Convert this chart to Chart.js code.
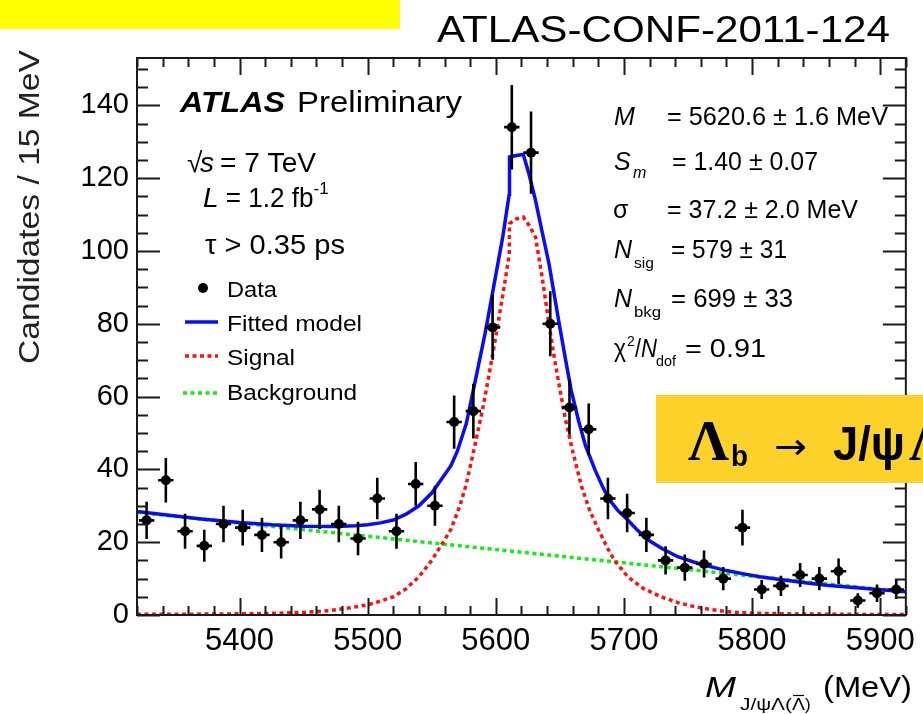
<!DOCTYPE html>
<html>
<head>
<meta charset="utf-8">
<script src="https://cdn.jsdelivr.net/npm/chart.js@4.4.0/dist/chart.umd.min.js"></script>
<style>
  html, body { margin: 0; padding: 0; background: #fff; }
  #wrap { width: 923px; height: 714px; position: relative; }
</style>
</head>
<body>
<div id="wrap"><canvas id="massPlot" width="923" height="714"></canvas></div>
<script>
// 15 MeV bins, 5320 - 5920 MeV
const binCentres = [5327.5, 5342.5, 5357.5, 5372.5, 5387.5, 5402.5, 5417.5, 5432.5, 5447.5, 5462.5,
                    5477.5, 5492.5, 5507.5, 5522.5, 5537.5, 5552.5, 5567.5, 5582.5, 5597.5, 5612.5,
                    5627.5, 5642.5, 5657.5, 5672.5, 5687.5, 5702.5, 5717.5, 5732.5, 5747.5, 5762.5,
                    5777.5, 5792.5, 5807.5, 5822.5, 5837.5, 5852.5, 5867.5, 5882.5, 5897.5, 5912.5];
const candidates = [26, 37, 23, 19, 25, 24, 22, 20, 26, 29,
                    25, 21, 32, 23, 36, 30, 53, 56, 79, 134,
                    127, 80, 57, 51, 32, 28, 22, 15, 13, 14,
                    10, 24, 7, 8, 11, 10, 12, 4, 6, 7];
const countErr = [5.1, 6.1, 4.8, 4.4, 5.0, 4.9, 4.7, 4.5, 5.1, 5.4,
                  5.0, 4.6, 5.7, 4.8, 6.0, 5.5, 7.3, 7.5, 8.9, 11.6,
                  11.3, 8.9, 7.5, 7.1, 5.7, 5.3, 4.7, 3.9, 3.6, 3.7,
                  3.2, 4.9, 2.6, 2.8, 3.3, 3.2, 3.5, 2.0, 2.4, 2.6];

// fitted model (signal + background)
const fitMass = [5320, 5345, 5370, 5400, 5425, 5450, 5475, 5490, 5500, 5510, 5520, 5530, 5540, 5550,
                 5558, 5565, 5570, 5577, 5585, 5592, 5598, 5605.5, 5610.5, 5610.7, 5616, 5621.5,
                 5626, 5631, 5636, 5641.5, 5649, 5654.5, 5659, 5664.5, 5670, 5677.5, 5683, 5688,
                 5695, 5703, 5710, 5719, 5730, 5742, 5755, 5767.5, 5780, 5793.5, 5806, 5819,
                 5838, 5858, 5877, 5896, 5920];
const fitVal = [28.4, 27.4, 26.4, 25.4, 24.8, 24.4, 24.3, 24.5, 24.8, 25.3, 26.1, 27.7, 30.0, 33.5,
                37.5, 41.0, 45.0, 52.6, 66.0, 78.0, 89.5, 104.0, 115.6, 125.8, 126.2, 126.5,
                121.0, 113.9, 105.5, 96.5, 81.0, 70.0, 61.5, 53.5, 46.5, 39.8, 35.5, 32.0,
                28.8, 26.1, 23.5, 20.6, 18.2, 16.0, 14.5, 13.3, 12.2, 11.3, 10.5, 9.9,
                9.0, 8.2, 7.6, 7.05, 6.4];

// signal component
const sigMass = [5320, 5380, 5420, 5450, 5470, 5485, 5500, 5510, 5520, 5530, 5540, 5550, 5558, 5565,
                 5572, 5577, 5583, 5590, 5595, 5600, 5605.5, 5610.5, 5610.7, 5616, 5621.5, 5626,
                 5631, 5636.5, 5641.5, 5645.5, 5650, 5654.5, 5660, 5667, 5673, 5680, 5687, 5693,
                 5703, 5715, 5729, 5742, 5755, 5768, 5780, 5800, 5832, 5870, 5920];
const sigVal = [0.2, 0.25, 0.4, 0.7, 1.2, 1.9, 2.8, 3.8, 5.0, 7.2, 10.5, 15.0, 19.5, 23.5,
                30.0, 36.0, 45.5, 57.0, 66.5, 76.5, 88.0, 99.0, 107.5, 108.8, 109.3, 107.0,
                103.8, 92.0, 80.0, 71.0, 62.0, 53.5, 45.0, 35.2, 29.0, 23.5, 18.5, 14.8,
                10.5, 7.3, 5.0, 3.4, 2.3, 1.5, 0.9, 0.5, 0.3, 0.2, 0.1];

// background component (linear)
const bkgMass = [5320, 5920];
const bkgVal = [28.2, 6.3];

const xTickLabels = [5400, 5500, 5600, 5700, 5800, 5900];
const yTickLabels = [0, 20, 40, 60, 80, 100, 120, 140];

const SANS = '"Liberation Sans", Arial, sans-serif';
const SERIF = '"Liberation Serif", "Times New Roman", serif';

const pts = (xs, ys) => xs.map((v, i) => ({ x: v, y: ys[i] }));

// draw a string; if width is given the run is stretched horizontally to that width
function put(ctx, str, x, y, size, o = {}) {
  ctx.save();
  ctx.font = `${o.style || 'normal'} ${o.weight || 'normal'} ${size}px ${o.family || SANS}`;
  ctx.fillStyle = o.color || '#000';
  ctx.textBaseline = 'alphabetic';
  ctx.textAlign = 'left';
  const w = ctx.measureText(str).width;
  const sx = o.width ? o.width / w : (o.sx || 1);
  ctx.translate(x, y);
  ctx.scale(sx, 1);
  ctx.fillText(str, 0, 0);
  ctx.restore();
  return x + w * sx;
}

function legendLine(ctx, x0, x1, y, color, dash) {
  ctx.save();
  ctx.strokeStyle = color;
  ctx.lineWidth = 3.5;
  ctx.setLineDash(dash || []);
  ctx.beginPath();
  ctx.moveTo(x0, y);
  ctx.lineTo(x1, y);
  ctx.stroke();
  ctx.restore();
}

const errorBars = {
  id: 'errorBars',
  afterDatasetsDraw(chart) {
    const { ctx, chartArea: a, scales: { x, y } } = chart;
    ctx.save();
    ctx.beginPath();
    ctx.rect(a.left, a.top, a.right - a.left, a.bottom - a.top);
    ctx.clip();
    ctx.strokeStyle = '#000';
    ctx.lineWidth = 2.6;
    binCentres.forEach((m, i) => {
      const px = x.getPixelForValue(m);
      const py = y.getPixelForValue(candidates[i]);
      ctx.beginPath();
      ctx.moveTo(px, y.getPixelForValue(candidates[i] + countErr[i]));
      ctx.lineTo(px, y.getPixelForValue(Math.max(0, candidates[i] - countErr[i])));
      ctx.moveTo(x.getPixelForValue(m - 6), py);
      ctx.lineTo(x.getPixelForValue(m + 6), py);
      ctx.stroke();
    });
    ctx.restore();
  }
};

// box with inward ticks on all four sides
const frame = {
  id: 'frame',
  afterDatasetsDraw(chart) {
    const { ctx, chartArea: a, scales: { x, y } } = chart;
    ctx.save();
    ctx.strokeStyle = '#1a1a1a';
    ctx.lineWidth = 2;
    ctx.strokeRect(a.left, a.top, a.right - a.left, a.bottom - a.top);
    ctx.beginPath();
    for (let m = 5320; m <= 5920; m += 20) {
      const px = Math.round(x.getPixelForValue(m)) + 0.5;
      const len = m % 100 === 0 ? 17 : 9;
      ctx.moveTo(px, a.bottom); ctx.lineTo(px, a.bottom - len);
      ctx.moveTo(px, a.top); ctx.lineTo(px, a.top + len);
    }
    for (let v = 0; v <= 150; v += 5) {
      const py = Math.round(y.getPixelForValue(v)) + 0.5;
      const len = v % 20 === 0 ? 23 : 11;
      ctx.moveTo(a.left, py); ctx.lineTo(a.left + len, py);
      ctx.moveTo(a.right, py); ctx.lineTo(a.right - len, py);
    }
    ctx.stroke();
    ctx.restore();
  }
};

const annotations = {
  id: 'annotations',
  afterDraw(chart) {
    const ctx = chart.ctx;
    let cx;

    // slide header pieces
    ctx.fillStyle = '#ffff00';
    ctx.fillRect(0, 0, 400, 29);
    put(ctx, 'ATLAS-CONF-2011-124', 437, 42, 36, { width: 453 });

    // y axis title
    ctx.save();
    ctx.translate(39, 207);
    ctx.rotate(-Math.PI / 2);
    put(ctx, 'Candidates / 15 MeV', -157, 0, 30, { width: 314, color: '#222' });
    ctx.restore();

    // x axis title
    cx = put(ctx, 'M', 705, 697, 30, { style: 'italic', width: 31 });
    let sx = put(ctx, 'J/ψΛ(', cx + 4, 710, 17, { width: 52 });
    const lamX = sx;
    sx = put(ctx, 'Λ', sx, 710, 17, { width: 13 });
    ctx.save();
    ctx.strokeStyle = '#000';
    ctx.lineWidth = 1.2;
    ctx.beginPath();
    ctx.moveTo(lamX + 1, 695.5);
    ctx.lineTo(sx - 1, 695.5);
    ctx.stroke();
    ctx.restore();
    put(ctx, ')', sx, 710, 17);
    put(ctx, '(MeV)', 823, 697, 30, { width: 89 });

    // experiment labels
    put(ctx, 'ATLAS', 180, 112, 30, { style: 'italic', weight: 'bold', width: 105 });
    put(ctx, 'Preliminary', 297, 112, 30, { width: 165 });

    put(ctx, '√', 187, 172, 28);
    put(ctx, 's', 200, 172, 28, { style: 'italic' });
    put(ctx, '= 7 TeV', 220, 172, 28, { width: 96 });

    cx = put(ctx, 'L', 203, 207, 28, { style: 'italic' });
    cx = put(ctx, ' = 1.2 fb', cx, 207, 28, { width: 95 });
    put(ctx, '-1', cx, 194, 17);

    put(ctx, 'τ > 0.35 ps', 205, 254, 28, { width: 140 });

    // legend
    ctx.save();
    ctx.fillStyle = '#000';
    ctx.beginPath();
    ctx.arc(203, 288, 5, 0, Math.PI * 2);
    ctx.fill();
    ctx.restore();
    legendLine(ctx, 185, 218, 322, '#0a0aff');
    legendLine(ctx, 185, 218, 356, '#ff1010', [4, 3.5]);
    legendLine(ctx, 183, 220, 393, '#11ee11', [4, 3.5]);
    put(ctx, 'Data', 227, 297, 22, { width: 50 });
    put(ctx, 'Fitted model', 227, 331, 22, { width: 135 });
    put(ctx, 'Signal', 227, 365, 22, { width: 68 });
    put(ctx, 'Background', 227, 400, 22, { width: 130 });

    // fit results
    put(ctx, 'M', 614, 125, 25, { style: 'italic' });
    put(ctx, '= 5620.6 ± 1.6 MeV', 667, 125, 25, { width: 221 });

    put(ctx, 'S', 614, 170, 25, { style: 'italic' });
    put(ctx, 'm', 633, 178, 16, { style: 'italic' });
    put(ctx, '= 1.40 ± 0.07', 672, 170, 25, { width: 146 });

    put(ctx, 'σ', 613, 218, 25);
    put(ctx, '= 37.2 ± 2.0 MeV', 667, 218, 25, { width: 191 });

    put(ctx, 'N', 614, 258, 25, { style: 'italic' });
    put(ctx, 'sig', 634, 268, 15, { width: 20 });
    put(ctx, '= 579 ± 31', 671, 258, 25, { width: 116 });

    put(ctx, 'N', 614, 307, 25, { style: 'italic' });
    put(ctx, 'bkg', 634, 317, 15, { width: 27 });
    put(ctx, '= 699 ± 33', 671, 307, 25, { width: 122 });

    put(ctx, 'χ', 614, 357, 25, { width: 12 });
    put(ctx, '2', 627, 346, 14);
    put(ctx, '/', 635, 357, 25, { width: 6 });
    put(ctx, 'N', 641, 357, 25, { style: 'italic', width: 16 });
    put(ctx, 'dof', 656, 366, 15, { width: 20 });
    put(ctx, '= 0.91', 685, 357, 25, { width: 81 });

    // decay channel banner
    ctx.fillStyle = '#fcd12a';
    ctx.fillRect(656, 395, 267, 88);
    put(ctx, 'Λ', 688, 460, 56, { weight: 'bold', family: SERIF, width: 41 });
    put(ctx, 'b', 731, 466, 30, { weight: 'bold', width: 17 });
    put(ctx, '→', 774, 459, 36, { family: '"DejaVu Sans", sans-serif', width: 33 });
    cx = put(ctx, 'J/ψ', 833, 460, 48, { weight: 'bold', width: 72 });
    put(ctx, 'Λ', cx + 4, 460, 56, { weight: 'bold', family: SERIF });
  }
};

const lineStyle = (color, dash) => ({
  showLine: true,
  borderColor: color,
  borderWidth: 3.5,
  borderDash: dash || [],
  pointRadius: 0,
  fill: false,
  tension: 0
});

new Chart(document.getElementById('massPlot'), {
  type: 'scatter',
  data: {
    datasets: [
      { label: 'Data', data: pts(binCentres, candidates), pointRadius: 5,
        pointBackgroundColor: '#000', pointBorderWidth: 0, order: 0 },
      { label: 'Fitted model', data: pts(fitMass, fitVal), order: 1, ...lineStyle('#0a0aff') },
      { label: 'Signal', data: pts(sigMass, sigVal), order: 2, ...lineStyle('#ff1010', [4, 3.5]) },
      { label: 'Background', data: pts(bkgMass, bkgVal), order: 3, ...lineStyle('#11ee11', [4, 3.5]) }
    ]
  },
  options: {
    responsive: false,
    devicePixelRatio: 1,
    animation: false,
    layout: { padding: { left: 0, top: 58, right: 9, bottom: 0 } },
    plugins: { legend: { display: false }, tooltip: { enabled: false }, title: { display: false } },
    scales: {
      x: {
        type: 'linear', min: 5320, max: 5920,
        grid: { display: false, drawTicks: false },
        border: { display: false },
        afterBuildTicks: (s) => { s.ticks = xTickLabels.map(v => ({ value: v })); },
        afterFit: (s) => { s.height = 99; },
        ticks: { color: '#000', padding: 8, maxRotation: 0, font: { family: SANS, size: 31 },
                 callback: (v) => String(v) }
      },
      y: {
        type: 'linear', min: 0, max: 153,
        grid: { display: false, drawTicks: false },
        border: { display: false },
        afterBuildTicks: (s) => { s.ticks = yTickLabels.map(v => ({ value: v })); },
        afterFit: (s) => { s.width = 137; },
        ticks: { color: '#000', padding: 8, font: { family: SANS, size: 29 },
                 callback: (v) => String(v) }
      }
    }
  },
  plugins: [errorBars, frame, annotations]
});
</script>
</body>
</html>
